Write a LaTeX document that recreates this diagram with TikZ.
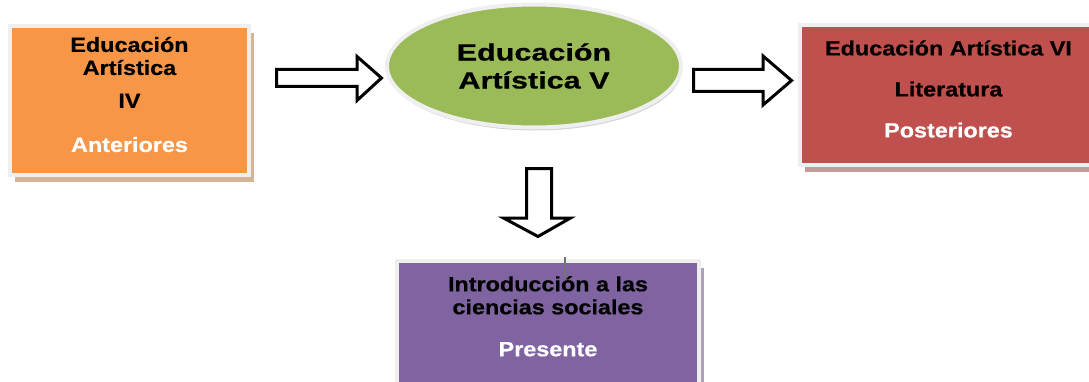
\documentclass[tikz,border=0pt]{standalone}
\usepackage{fontspec}
\newfontfamily\boxfont[FakeStretch=1.14,FakeBold=0.6]{Liberation Sans}
\newfontfamily\elipfont[FakeStretch=1.3,FakeBold=0.6]{Liberation Sans}
\usetikzlibrary{positioning,shapes.geometric,shadows}
\definecolor{naranja}{HTML}{F79646}
\definecolor{rojo}{HTML}{C0504D}
\definecolor{verde}{HTML}{9BBB59}
\definecolor{morado}{HTML}{8064A2}
\definecolor{marco}{HTML}{EFEFEF}
\tikzset{
  caja/.style={rectangle, fill=#1, draw=marco, line width=4pt, inner sep=0pt,
      drop shadow={shadow xshift=5pt, shadow yshift=-7pt, fill=#1!70!black, opacity=.5}},
  txt/.style={font=\boxfont\bfseries\fontsize{20.5}{23}\selectfont, align=center, inner sep=0pt},
  flecha/.style={draw=black, fill=white, line width=3pt, line join=miter},
}
\begin{document}
\begin{tikzpicture}[x=1pt,y=1pt]
  \useasboundingbox (0,0) rectangle (1089,381);
  % asignaturas
  \node (anterior) [caja=naranja, minimum width=239pt, minimum height=149pt] at (129.5,280.5) {};
  \node (tanterior) [txt, yshift=6pt] at (anterior)
      {Educación\\Artística\\[10pt]IV\\[21pt]\textcolor{white}{Anteriores}};
  \node (actual) [ellipse, fill=verde, draw=marco, line width=4pt, inner sep=0pt,
      minimum width=294pt, minimum height=123pt,
      drop shadow={shadow xshift=1pt, shadow yshift=-3pt, opacity=.35},
      font=\elipfont\bfseries\fontsize{23.5}{28}\selectfont, align=center] at (534,315)
      {Educación\\Artística V};
  \node (posterior) [caja=rojo, minimum width=297pt, minimum height=140pt] at (948.5,286) {};
  \node (tposterior) [txt, yshift=6pt] at (posterior)
      {Educación Artística VI\\[18pt]Literatura\\[18pt]\textcolor{white}{Posteriores}};
  \node (presente) [caja=morado, minimum width=302pt, minimum height=161pt] at (548,39.5) {};
  \node (tpresente) [txt, below=17pt of presente.north]
      {Introducción a las\\ciencias sociales\\[19pt]\textcolor{white}{Presente}};
  % flechas
  \draw[flecha] (276.5,294.5) -- (357,294.5) -- (357,280.5) -- (381.5,303)
      -- (357,324.5) -- (357,311.5) -- (276.5,311.5) -- cycle;
  \draw[flecha] (693.5,289.5) -- (763,289.5) -- (763,276) -- (791.5,300.5)
      -- (763,325) -- (763,311.5) -- (693.5,311.5) -- cycle;
  \draw[flecha] (526.5,212.5) -- (526.5,163) -- (503.5,163) -- (538,144.5)
      -- (570.5,163) -- (551.5,163) -- (551.5,212.5) -- cycle;
  \coordinate (marca) at (565,124);
  \draw[black!55, line width=1.2pt] (marca) -- ++(0,-21);
\end{tikzpicture}
\end{document}
